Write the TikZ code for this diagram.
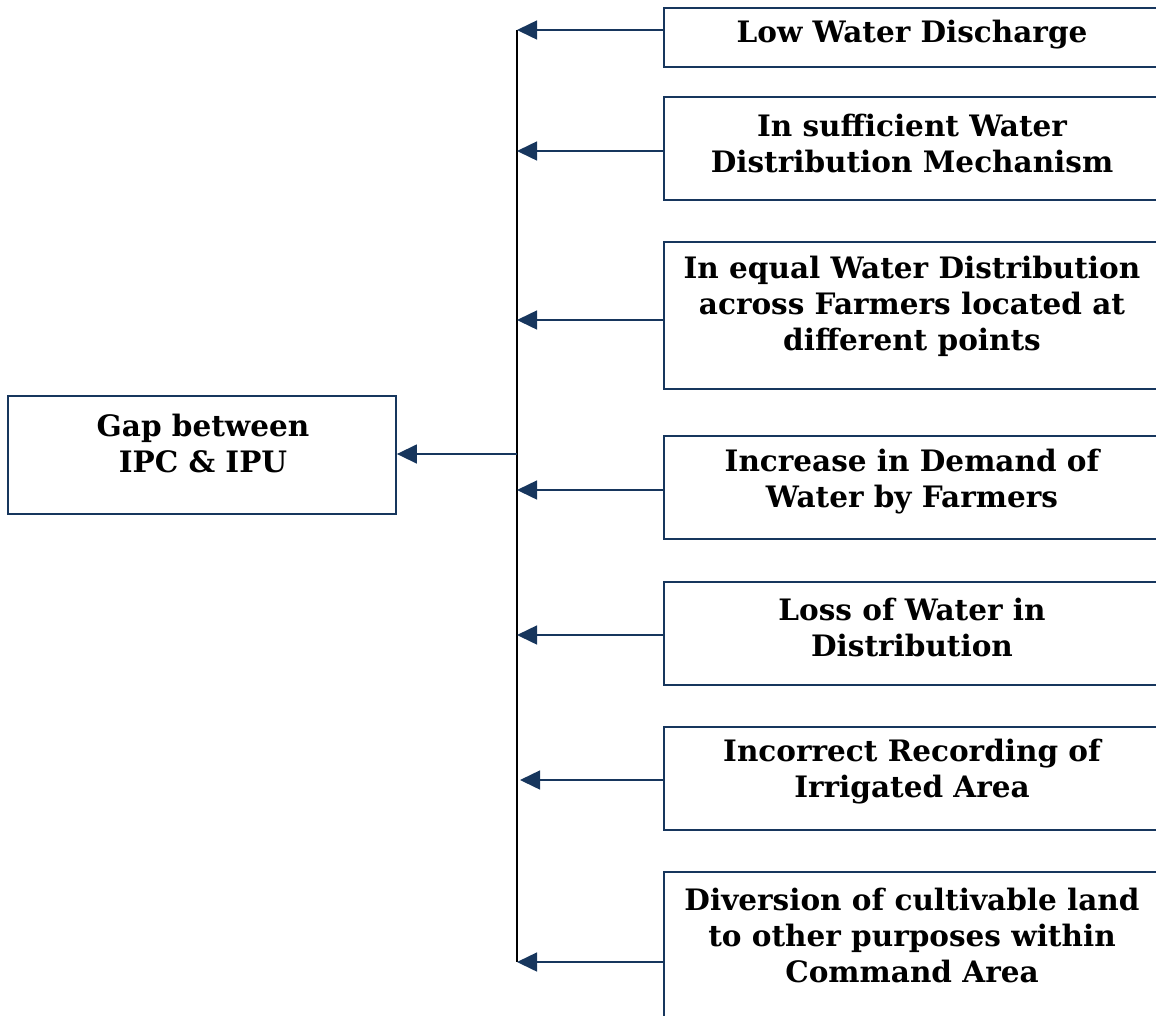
\documentclass[tikz,border=0pt]{standalone}
\usepackage{fontspec}
\setmainfont{DejaVu Serif}
\usetikzlibrary{arrows.meta}
\definecolor{navy}{RGB}{23,54,93}
\begin{document}
\begin{tikzpicture}[x=1pt,y=-1pt,
  box/.style={draw=navy,line width=1.8pt,inner sep=0pt},
  txt/.style={font=\fontsize{29.5}{36}\selectfont\bfseries,align=center,inner sep=0pt},
  arr/.style={draw=navy,line width=1.5pt,-{Triangle[length=20pt,width=19pt]}},
  stem/.style={draw=black,line width=1.7pt}]
\useasboundingbox (0,0) rectangle (1156,1015);
% cause box
\node[box,minimum width=388pt,minimum height=118pt] (g) at (202,455) {};
\node[txt] (gt) at (203,443) {Gap between\\IPC \& IPU};
% right boxes (extend past the right edge)
\node[box,minimum width=500pt,minimum height=59pt] (b1) at (914,37.5) {};
\node[box,minimum width=500pt,minimum height=103pt] (b2) at (914,148.5) {};
\node[box,minimum width=500pt,minimum height=147pt] (b3) at (914,315.5) {};
\node[box,minimum width=500pt,minimum height=103pt] (b4) at (914,487.5) {};
\node[box,minimum width=500pt,minimum height=103pt] (b5) at (914,633.5) {};
\node[box,minimum width=500pt,minimum height=103pt] (b6) at (914,778.5) {};
\node[box,minimum width=500pt,minimum height=200pt] (b7) at (914,972) {};
\node[txt] (t1) at (912,35) {Low Water Discharge};
\node[txt] (t2) at (912,143) {In sufficient Water\\Distribution Mechanism};
\node[txt] (t3) at (912,306) {In equal Water Distribution\\across Farmers located at\\different points};
\node[txt] (t4) at (912,481.5) {Increase in Demand of\\Water by Farmers};
\node[txt] (t5) at (912,627) {Loss of Water in\\Distribution};
\node[txt] (t6) at (912,772) {Incorrect Recording of\\Irrigated Area};
\node[txt] (t7) at (912,935) {Diversion of cultivable land\\to other purposes within\\Command Area};
% junction points on the stem
\coordinate (top) at (517,30);
\coordinate (bot) at (517,962);
\coordinate (j2) at (517,151);
\coordinate (j3) at (517,320);
\coordinate (jg) at (517,454);
\coordinate (j4) at (517,490);
\coordinate (j5) at (517,635);
\coordinate (j6) at (520,780);
\draw[stem] (top) -- (bot);
\draw[arr] (b1.west |- top) -- (top);
\draw[arr] (b2.west |- j2) -- (j2);
\draw[arr] (b3.west |- j3) -- (j3);
\draw[arr] (b4.west |- j4) -- (j4);
\draw[arr] (b5.west |- j5) -- (j5);
\draw[arr] (b6.west |- j6) -- (j6);
\draw[arr] (b7.west |- bot) -- (bot);
\draw[arr] (jg) -- (g.east |- jg);
\end{tikzpicture}
\end{document}
